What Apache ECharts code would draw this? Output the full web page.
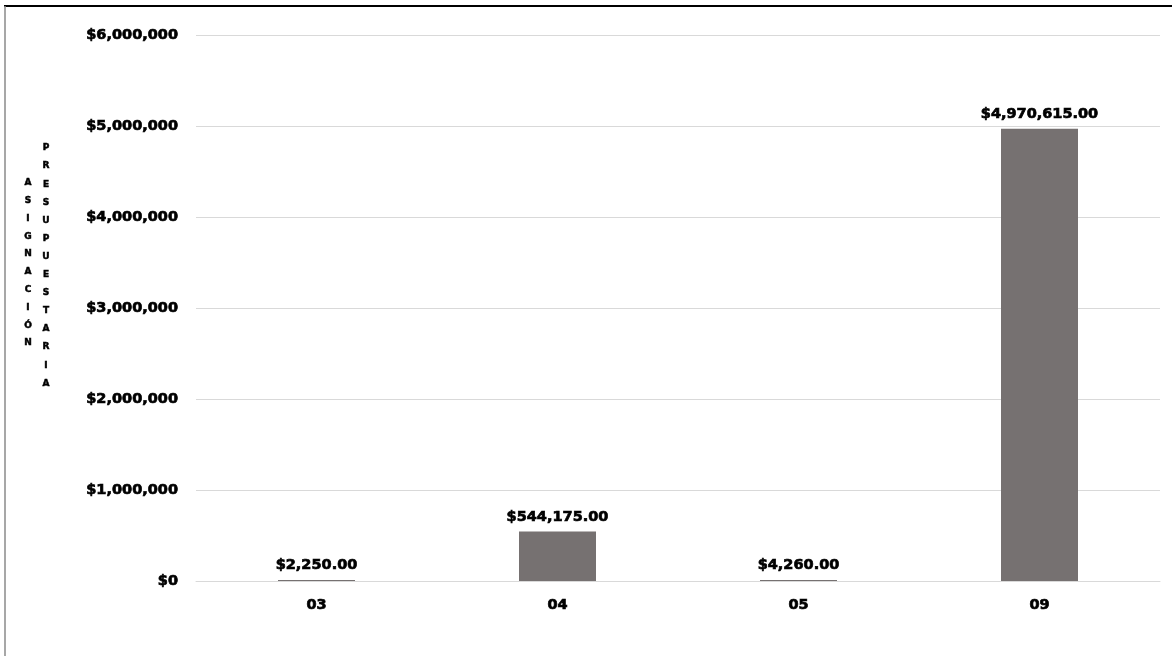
<!DOCTYPE html>
<html>
<head>
<meta charset="utf-8">
<script src="https://cdn.jsdelivr.net/npm/echarts@6/dist/echarts.min.js"></script>
<style>
html,body{margin:0;padding:0;background:#fff;}
#c{width:1172px;height:656px;}
</style>
</head>
<body>
<div id="c"></div>
<script>
const categories = ['03', '04', '05', '09'];
const values = [2250, 544175, 4260, 4970615];
const yTicks = [0, 1000000, 2000000, 3000000, 4000000, 5000000, 6000000];
const axisNameLeft = 'ASIGNACIÓN';
const axisNameRight = 'PRESUPUESTARIA';

const FONT = '"DejaVu Sans", sans-serif';
function money(v, dec) {
  return '$' + v.toLocaleString('en-US', {minimumFractionDigits: dec, maximumFractionDigits: dec});
}
const heavy = {color: '#000', fontFamily: FONT, fontWeight: 'bold', fontSize: 14.5,
  textBorderColor: '#000', textBorderWidth: 0.7};

const chart = echarts.init(document.getElementById('c'), null, {renderer: 'canvas'});
chart.setOption({
  backgroundColor: '#ffffff',
  animation: false,
  grid: {left: 196, right: 12, top: 35, bottom: 75, containLabel: false},
  xAxis: {
    type: 'category',
    data: categories,
    axisTick: {show: false},
    axisLine: {show: true, lineStyle: {color: '#d9d9d9', width: 1}},
    axisLabel: Object.assign({margin: 17}, heavy)
  },
  yAxis: {
    type: 'value',
    min: yTicks[0],
    max: yTicks[yTicks.length - 1],
    interval: yTicks[1] - yTicks[0],
    axisLine: {show: false},
    axisTick: {show: false},
    splitLine: {lineStyle: {color: '#d9d9d9', width: 1}},
    axisLabel: Object.assign({margin: 18, formatter: v => money(v, 0)}, heavy)
  },
  series: [{
    type: 'bar',
    data: values,
    barWidth: 77,
    barMinHeight: 1,
    itemStyle: {color: '#767171'},
    label: Object.assign({show: true, position: 'top', distance: 7,
      formatter: p => money(p.value, 2)}, heavy)
  }],
  graphic: [
    {type: 'line', shape: {x1: 4, y1: 6, x2: 1172, y2: 6}, style: {stroke: '#000', lineWidth: 2}},
    {type: 'line', shape: {x1: 5, y1: 6, x2: 5, y2: 656}, style: {stroke: '#8a8a8a', lineWidth: 1.5}},
    {type: 'text', x: 28, y: 174, style: {
      text: axisNameLeft.split('').join('\n'), font: 'bold 9px ' + FONT, fill: '#000',
      stroke: '#000', lineWidth: 0.5,
      lineHeight: 17.8, align: 'center', verticalAlign: 'top'}},
    {type: 'text', x: 46, y: 139, style: {
      text: axisNameRight.split('').join('\n'), font: 'bold 9px ' + FONT, fill: '#000',
      stroke: '#000', lineWidth: 0.5,
      lineHeight: 18.1, align: 'center', verticalAlign: 'top'}}
  ]
});
</script>
</body>
</html>
